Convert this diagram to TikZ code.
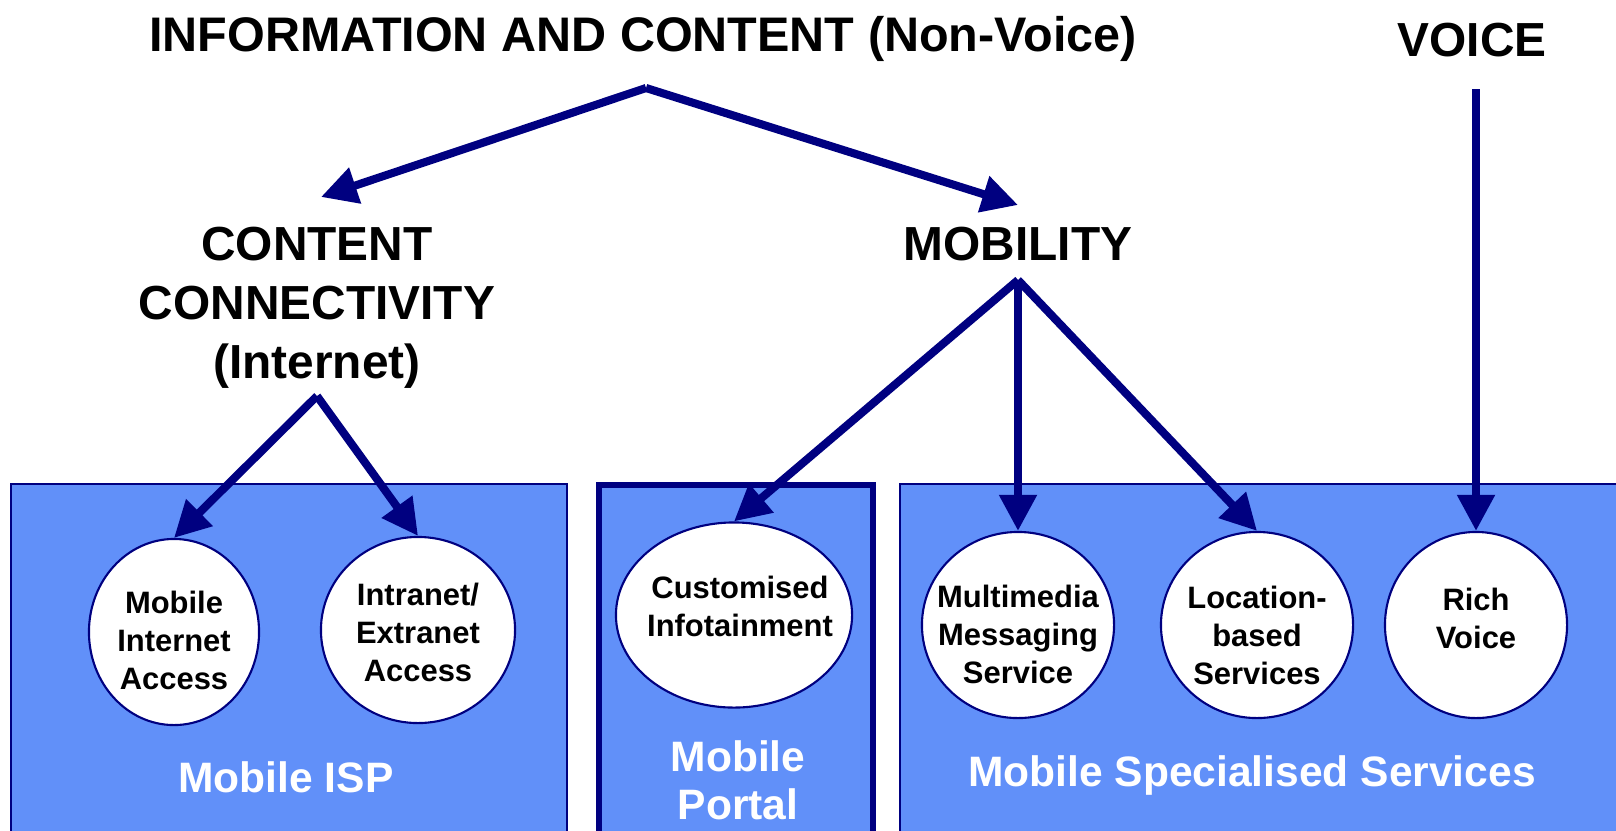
\documentclass[tikz,border=0pt]{standalone}
\usepackage{fontspec}
\setmainfont{Liberation Sans}
\definecolor{cNavy}{HTML}{000080}
\definecolor{cBox}{HTML}{6190F9}
\usetikzlibrary{shapes.geometric}
\usetikzlibrary{arrows.meta}
\tikzset{
  head/.style={font=\bfseries\fontsize{13.6}{16.8}\selectfont, align=center},
  svc/.style={ellipse, draw=cNavy, line width=0.6pt, fill=white, inner sep=0pt},
  svctext/.style={align=center, font=\bfseries\fontsize{8.8}{10.8}\selectfont},
  area/.style={fill=cBox, draw=cNavy, line width=0.4pt},
  arealabel/.style={white, font=\bfseries\fontsize{12.1}{13.6}\selectfont, align=center},
  link/.style={cNavy, line width=2.3pt, -{Triangle[length=3.6mm, width=3.6mm]}}
}
\begin{document}
\begin{tikzpicture}[x=0.01cm, y=-0.01cm]
	\useasboundingbox (0,0) rectangle (1616,830);
	% coloured areas
	\draw [area] (11,484) rectangle (567,845);
	\draw [area, line width=1.7pt] (599,485) rectangle (873,845);
	\draw [area] (900,484) rectangle (1640,845);
	\node [arealabel, anchor=base] (isp) at (286,792) {Mobile ISP};
	\node [arealabel, anchor=north] (portal) at (738,728) {Mobile\\Portal};
	\node [arealabel, anchor=base] (special) at (1252,786) {Mobile Specialised Services};
	% headings
	\node [head, anchor=base, font=\bfseries\fontsize{13.8}{16.8}\selectfont] (info) at (643,51) {INFORMATION AND CONTENT (Non-Voice)};
	\node [head, anchor=base] (voice) at (1472,56) {VOICE};
	\node [head, anchor=base] (mobility) at (1018,260) {MOBILITY};
	\node [head] (content) at (317,308) {CONTENT\\CONNECTIVITY\\(Internet)};
	% services
	\node [svc, minimum width=1.70cm, minimum height=1.86cm] (mia) at (174,632) {};
	\node [svc, minimum width=1.94cm, minimum height=1.86cm] (iea) at (418,630) {};
	\node [svc, minimum width=2.36cm, minimum height=1.85cm] (ci) at (734,615) {};
	\node [svc, minimum width=1.92cm, minimum height=1.86cm] (mms) at (1018,625) {};
	\node [svc, minimum width=1.92cm, minimum height=1.86cm] (lbs) at (1257,625) {};
	\node [svc, minimum width=1.82cm, minimum height=1.86cm] (rv) at (1476,625) {};
	\node [svctext] (mia-t) at (174,640) {Mobile\\Internet\\Access};
	\node [svctext] (iea-t) at (418,632) {Intranet/\\Extranet\\Access};
	\node [svctext] (ci-t) at (740,606) {Customised\\Infotainment};
	\node [svctext] (mms-t) at (1018,634) {Multimedia\\Messaging\\Service};
	\node [svctext] (lbs-t) at (1257,635) {Location-\\based\\Services};
	\node [svctext] (rv-t) at (1476,618) {Rich\\Voice};
	% connectors
	\coordinate (infoapex) at (646,88);
	\coordinate (contenttip) at (321,197);
	\coordinate (mobilitytip) at (1018,205);
	\coordinate (contentapex) at (317,396);
	\coordinate (mobilityapex) at (1018,280);
	\coordinate (voiceapex) at (1476,89);
	\draw [link] (infoapex) -- (contenttip);
	\draw [link] (infoapex) -- (mobilitytip);
	\draw [link] (contentapex) -- (mia.north);
	\draw [link] (contentapex) -- (iea.north);
	\draw [link] (mobilityapex) -- (ci.north);
	\draw [link] (mobilityapex) -- (mms.north);
	\draw [link] (mobilityapex) -- (lbs.north);
	\draw [link] (voiceapex) -- (rv.north);
\end{tikzpicture}
\end{document}
